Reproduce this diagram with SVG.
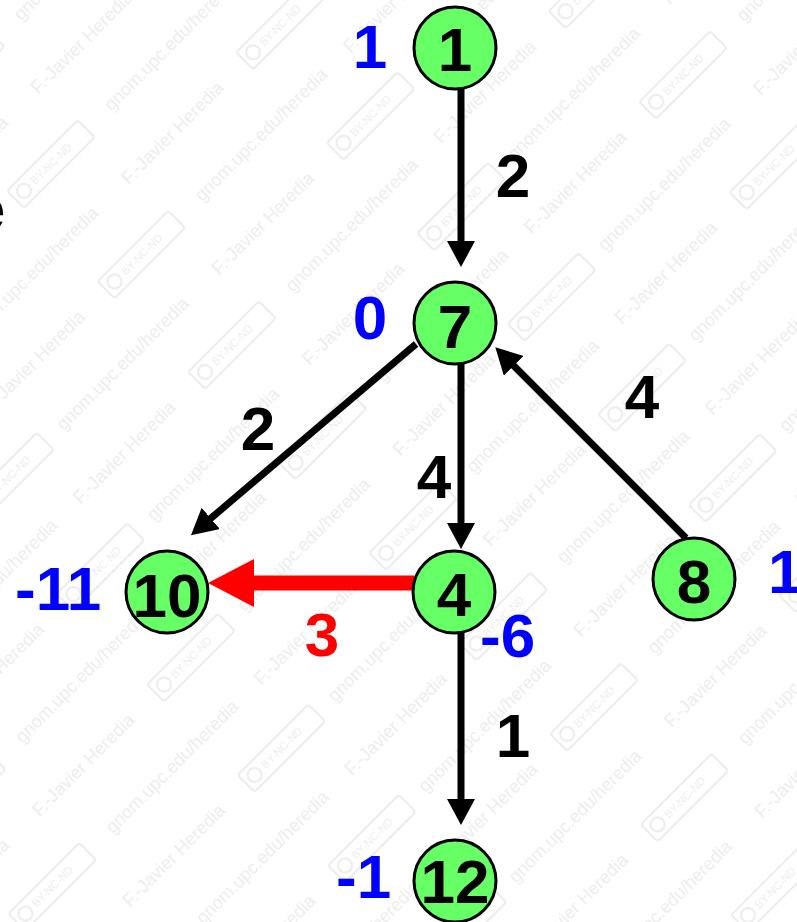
<svg xmlns="http://www.w3.org/2000/svg" width="797" height="922" viewBox="0 0 797 922">
  <style>
    .node circle { fill: #66ff66; stroke: #000; stroke-width: 3; }
    .node text { font-family: "Liberation Sans", Arial, sans-serif; font-weight: bold; font-size: 62px; fill: #000; text-anchor: middle; }
    .val { font-family: "Liberation Sans", Arial, sans-serif; font-weight: bold; font-size: 62px; fill: #0000ff; }
    .lbl { font-family: "Liberation Sans", Arial, sans-serif; font-weight: bold; font-size: 62px; fill: #000; text-anchor: middle; }
    .lbl.red { fill: #ff0000; }
    .edge { fill: none; stroke: #000; stroke-width: 7; }
    .edge.red { stroke: #ff0000; stroke-width: 15; }
    .wm { font-family: "Liberation Sans", Arial, sans-serif; font-size: 18px; fill: #ececec; }
    .wms { font-family: "Liberation Sans", Arial, sans-serif; font-size: 11px; fill: #ececec; }
    .wmb { fill: none; stroke: #ececec; stroke-width: 2; }
  </style>
  <defs>
    <marker id="head" markerUnits="userSpaceOnUse" markerWidth="28" markerHeight="28" refX="1" refY="14" orient="auto">
      <path d="M0,0 L26,14 L0,28 z" fill="#000"/>
    </marker>
    <marker id="headRed" markerUnits="userSpaceOnUse" markerWidth="48" markerHeight="48" refX="2" refY="24" orient="auto">
      <path d="M0,0 L46,24 L0,48 z" fill="#ff0000"/>
    </marker>
    <!-- faint diagonal credit line repeated over the background -->
    <pattern id="watermark" patternUnits="userSpaceOnUse" width="510" height="128" patternTransform="rotate(-45)">
      <text class="wm" x="0" y="30">gnom.upc.edu/heredia</text>
      <text class="wm" x="210" y="30">F.-Javier Heredia</text>
      <rect class="wmb" x="380" y="12" width="100" height="24" rx="3"/>
      <circle class="wmb" cx="392" cy="24" r="7"/>
      <text class="wms" x="404" y="28">BY-NC-ND</text>
      <text class="wm" x="250" y="94">gnom.upc.edu/heredia</text>
      <text class="wm" x="-40" y="94">F.-Javier Heredia</text>
      <rect class="wmb" x="130" y="76" width="100" height="24" rx="3"/>
      <circle class="wmb" cx="142" cy="88" r="7"/>
      <text class="wms" x="154" y="92">BY-NC-ND</text>
      <text class="wm" x="470" y="94">F.-Javier Heredia</text>
    </pattern>
  </defs>

  <rect width="797" height="922" fill="#fff"/>
  <rect width="797" height="922" fill="url(#watermark)"/>

  <!-- glyph running off the left margin -->
  <text class="lbl" x="-12" y="230" font-size="56">e</text>

  <!-- connectors -->
  <g id="connectors">
    <line id="e1-7" class="edge" x1="461" y1="89" x2="461" y2="242" marker-end="url(#head)"/>
    <line id="e7-10" class="edge" x1="416" y1="344" x2="210" y2="519" marker-end="url(#head)"/>
    <line id="e7-4" class="edge" x1="461" y1="364" x2="461" y2="524" marker-end="url(#head)"/>
    <line id="e8-7" class="edge" x1="686" y1="538" x2="513" y2="365" marker-end="url(#head)"/>
    <line id="e4-12" class="edge" x1="461" y1="633" x2="461" y2="800" marker-end="url(#head)"/>
    <line id="e4-10" class="edge red" x1="414" y1="583" x2="252" y2="583" marker-end="url(#headRed)"/>
    <text class="lbl" x="513" y="197">2</text>
    <text class="lbl" x="258" y="450">2</text>
    <text class="lbl" x="434" y="498">4</text>
    <text class="lbl" x="642" y="418">4</text>
    <text class="lbl" x="513" y="757">1</text>
    <text class="lbl red" x="322" y="656">3</text>
  </g>

  <!-- nodes -->
  <g id="node1" class="node">
    <circle cx="455" cy="48" r="41"/>
    <text x="455" y="71">1</text>
    <text class="val" x="370" y="68" style="text-anchor:middle;fill:#0000ff">1</text>
  </g>
  <g id="node7" class="node">
    <circle cx="455" cy="323" r="41"/>
    <text x="455" y="348">7</text>
    <text class="val" x="370" y="339" style="text-anchor:middle;fill:#0000ff">0</text>
  </g>
  <g id="node10" class="node">
    <circle cx="167" cy="592" r="41"/>
    <text x="167" y="617">10</text>
    <text class="val" x="15" y="610" style="text-anchor:start;fill:#0000ff">-11</text>
  </g>
  <g id="node4" class="node">
    <circle cx="454" cy="592" r="41"/>
    <text x="454" y="616">4</text>
    <text class="val" x="480" y="657" style="text-anchor:start;fill:#0000ff">-6</text>
  </g>
  <g id="node8" class="node">
    <circle cx="694" cy="579" r="41"/>
    <text x="694" y="603">8</text>
    <text class="val" x="768" y="593" style="text-anchor:start;fill:#0000ff">1</text>
  </g>
  <g id="node12" class="node">
    <circle cx="455" cy="881" r="41"/>
    <text x="455" y="903">12</text>
    <text class="val" x="336" y="898" style="text-anchor:start;fill:#0000ff">-1</text>
  </g>
</svg>
